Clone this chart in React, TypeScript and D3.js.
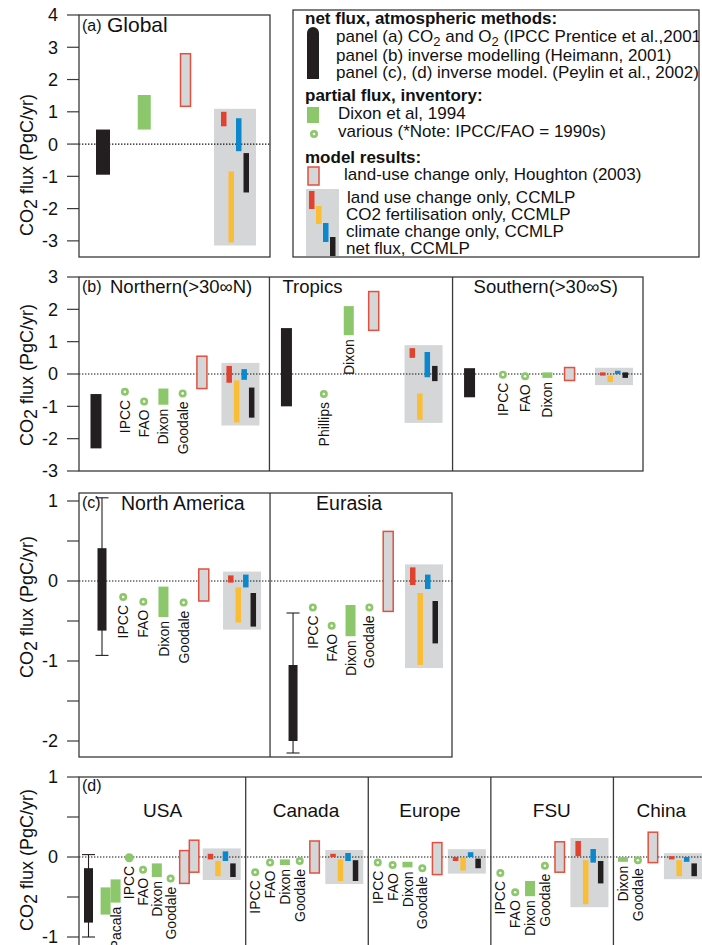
import React from "react";
import * as d3 from "d3";

const width = 702, height = 945;
const FONT = "'Liberation Sans', Arial, Helvetica, sans-serif";
const C = {
  black: "#231f20", green: "#8cc76b", red: "#e2412e", yellow: "#f9be36",
  blue: "#0b87cc", gray: "#d5d6d8", frame: "#3a3a3a", hou: "#e2503e",
};

// regions in each panel
const panelARegions = ["Global"];
const panelBRegions = ["Northern", "Tropics", "Southern"];
const panelCRegions = ["North America", "Eurasia"];
const panelDRegions = ["USA", "Canada", "Europe", "FSU", "China"];

const regionTitles: Record<string, string> = {
  Global: "Global", Northern: "Northern(>30∞N)", Tropics: "Tropics", Southern: "Southern(>30∞S)",
  "North America": "North America", Eurasia: "Eurasia",
  USA: "USA", Canada: "Canada", Europe: "Europe", FSU: "FSU", China: "China",
};

// y axis ticks
const aTicks = [-3, -2, -1, 0, 1, 2, 3, 4];
const bTicks = [-3, -2, -1, 0, 1, 2, 3];
const cTicks = [-2, -1.5, -1, -0.5, 0, 0.5, 1];
const dTicks = [-1, -0.5, 0, 0.5, 1];

// net flux, atmospheric methods  [low, high], optional whiskers
const atmospheric = [
  { region: "Global", range: [-0.95, 0.45] },
  { region: "Northern", range: [-2.3, -0.62] },
  { region: "Tropics", range: [-1.0, 1.42] },
  { region: "Southern", range: [-0.72, 0.18] },
  { region: "North America", range: [-0.62, 0.41], whisker: [-0.93, 1.04] },
  { region: "Eurasia", range: [-2.0, -1.05], whisker: [-2.15, -0.4] },
  { region: "USA", range: [-0.82, -0.14], whisker: [-1.0, 0.03] },
];

// partial flux, inventory (ranges = boxes, value = point)
const inventory: any[] = [
  { region: "Global", source: "Dixon", ranges: [[0.45, 1.52]] },
  { region: "Northern", source: "IPCC", value: -0.55 },
  { region: "Northern", source: "FAO", value: -0.85 },
  { region: "Northern", source: "Dixon", ranges: [[-0.95, -0.45]] },
  { region: "Northern", source: "Goodale", value: -0.6 },
  { region: "Tropics", source: "Phillips", value: -0.62 },
  { region: "Tropics", source: "Dixon", ranges: [[1.2, 2.1]] },
  { region: "Southern", source: "IPCC", value: -0.02 },
  { region: "Southern", source: "FAO", value: -0.07 },
  { region: "Southern", source: "Dixon", ranges: [[-0.12, 0.05]] },
  { region: "North America", source: "IPCC", value: -0.2 },
  { region: "North America", source: "FAO", value: -0.26 },
  { region: "North America", source: "Dixon", ranges: [[-0.45, -0.07]] },
  { region: "North America", source: "Goodale", value: -0.27 },
  { region: "Eurasia", source: "IPCC", value: -0.33 },
  { region: "Eurasia", source: "FAO", value: -0.56 },
  { region: "Eurasia", source: "Dixon", ranges: [[-0.69, -0.3]] },
  { region: "Eurasia", source: "Goodale", value: -0.33 },
  { region: "USA", source: "Pacala", ranges: [[-0.72, -0.38], [-0.57, -0.28]] },
  { region: "USA", source: "IPCC", value: -0.01, solid: true },
  { region: "USA", source: "FAO", value: -0.16 },
  { region: "USA", source: "Dixon", ranges: [[-0.25, -0.08]] },
  { region: "USA", source: "Goodale", value: -0.27 },
  { region: "Canada", source: "IPCC", value: -0.19 },
  { region: "Canada", source: "FAO", value: -0.07 },
  { region: "Canada", source: "Dixon", ranges: [[-0.1, -0.03]] },
  { region: "Canada", source: "Goodale", value: -0.05 },
  { region: "Europe", source: "IPCC", value: -0.07 },
  { region: "Europe", source: "FAO", value: -0.1 },
  { region: "Europe", source: "Dixon", ranges: [[-0.13, -0.06]] },
  { region: "Europe", source: "Goodale", value: -0.14 },
  { region: "FSU", source: "IPCC", value: -0.2 },
  { region: "FSU", source: "FAO", value: -0.44 },
  { region: "FSU", source: "Dixon", ranges: [[-0.49, -0.3]] },
  { region: "FSU", source: "Goodale", value: -0.11 },
  { region: "China", source: "Dixon", ranges: [[-0.06, 0]] },
  { region: "China", source: "Goodale", value: -0.04 },
];

// land-use change only, Houghton (2003)
const houghton = [
  { region: "Global", range: [1.17, 2.8] },
  { region: "Northern", range: [-0.45, 0.55] },
  { region: "Tropics", range: [1.35, 2.55] },
  { region: "Southern", range: [-0.2, 0.2] },
  { region: "North America", range: [-0.25, 0.15] },
  { region: "Eurasia", range: [-0.38, 0.62] },
  { region: "USA", range: [-0.33, 0.08] },
  { region: "USA", range: [-0.19, 0.21] },
  { region: "Canada", range: [-0.2, 0.2] },
  { region: "Europe", range: [-0.22, 0.18] },
  { region: "FSU", range: [-0.19, 0.19] },
  { region: "China", range: [-0.07, 0.31] },
];

// CCMLP model: land use, CO2 fertilisation, climate, net
const ccmlp = [
  { region: "Global", landUse: [0.55, 1.0], co2: [-3.05, -0.85], climate: [-0.22, 0.8], net: [-1.5, -0.28] },
  { region: "Northern", landUse: [-0.27, 0.25], co2: [-1.5, -0.2], climate: [-0.18, 0.15], net: [-1.35, -0.42] },
  { region: "Tropics", landUse: [0.5, 0.8], co2: [-1.42, -0.6], climate: [-0.1, 0.68], net: [-0.22, 0.25] },
  { region: "Southern", landUse: [-0.05, 0.05], co2: [-0.25, -0.05], climate: [0, 0.1], net: [-0.12, 0.05] },
  { region: "North America", landUse: [-0.02, 0.07], co2: [-0.52, -0.08], climate: [-0.08, 0.08], net: [-0.57, -0.15] },
  { region: "Eurasia", landUse: [-0.05, 0.17], co2: [-1.05, -0.15], climate: [-0.1, 0.08], net: [-0.78, -0.25] },
  { region: "USA", landUse: [-0.03, 0.04], co2: [-0.24, -0.05], climate: [-0.05, 0.07], net: [-0.25, -0.08] },
  { region: "Canada", landUse: [0, 0.04], co2: [-0.3, -0.03], climate: [-0.05, 0.05], net: [-0.3, -0.04] },
  { region: "Europe", landUse: [-0.05, 0], co2: [-0.17, -0.01], climate: [0, 0.06], net: [-0.14, -0.02] },
  { region: "FSU", landUse: [0.01, 0.2], co2: [-0.59, -0.04], climate: [-0.07, 0.1], net: [-0.33, -0.05] },
  { region: "China", landUse: [-0.03, 0.01], co2: [-0.24, -0.04], climate: [-0.06, 0], net: [-0.24, -0.08] },
];
const ccmlpKeys = ["landUse", "co2", "climate", "net"];
const ccmlpColors = [C.red, C.yellow, C.blue, C.black];

// layout for each panel
const panels = [
  {
    id: "(a)", regions: panelARegions, domain: [-3.5, 4], ticks: aTicks, tickLabels: aTicks,
    top: 15, bottom: 257, left: 79, right: 270, weights: [1],
    padL: 24, padR: 35, atmGap: 1, ccGap: 1.2, maxUnit: 100,
    atmW: 14, rectW: 13, houW: 10, ccW: 42, ccStep: 7.5, labels: false,
    letterY: 31, titleY: 32, titleSize: 21, titleDx: [28], axisLabelY: 165,
  },
  {
    id: "(b)", regions: panelBRegions, domain: [-3, 3], ticks: bTicks, tickLabels: bTicks,
    top: 277, bottom: 471, left: 79, right: 643, weights: [1.04, 1, 1.04],
    padL: 17, padR: 29, atmGap: 1.5, ccGap: 2, maxUnit: 100,
    atmW: 11, rectW: 10, houW: 10, ccW: 38, ccStep: 7.5, labels: true,
    letterY: 292, titleY: 293, titleSize: 18.5, titleDx: [31, 13, 21], axisLabelY: 375,
  },
  {
    id: "(c)", regions: panelCRegions, domain: [-2.2, 1.1], ticks: cTicks, tickLabels: [-2, -1, 0, 1],
    top: 493, bottom: 757, left: 79, right: 452, weights: [1.05, 1],
    padL: 23, padR: 28, atmGap: 1.05, ccGap: 1.9, maxUnit: 100,
    atmW: 9, rectW: 10, houW: 10, ccW: 38, ccStep: 7.5, labels: true,
    letterY: 508, titleY: 510, titleSize: 19.5, titleDx: [42, 46], axisLabelY: 607,
  },
  {
    id: "(d)", regions: panelDRegions, domain: [-1.25, 1], ticks: dTicks, tickLabels: [-1, 0, 1],
    top: 777, bottom: 957, left: 79, right: 736, weights: [1.36, 1, 1, 1, 1],
    padL: 9.5, padR: 24, atmGap: 1.6, ccGap: 2, maxUnit: 15,
    atmW: 9, rectW: 10, houW: 9.5, ccW: 38, ccStep: 7.5, labels: true,
    letterY: 791, titleY: 817, titleSize: 19, titleDx: [64, 27, 31, 42, 23], axisLabelY: 860,
  },
];

function Region({ p, r, x0, x1, y }: any) {
  const items: any[] = [];
  atmospheric.filter(d => d.region === r).forEach(d => items.push({ kind: "atm", d }));
  inventory.filter(d => d.region === r).forEach(d => items.push({ kind: "inv", d }));
  houghton.filter(d => d.region === r).forEach(d => items.push({ kind: "hou", d }));
  ccmlp.filter(d => d.region === r).forEach(d => items.push({ kind: "cc", d }));

  // slot positions along the region
  let pos = 0;
  const slots = items.map((it, i) => {
    if (i > 0) {
      const prev = items[i - 1];
      let g = 1;
      if (prev.kind === "atm") g = p.atmGap;
      else if (it.kind === "cc") g = p.ccGap;
      else if (prev.kind === "hou" && it.kind === "hou") g = 0.7;
      else if (prev.kind === "inv" && prev.d.ranges && prev.d.ranges.length > 1) g = 1.35;
      pos += g;
    }
    return pos;
  });
  const innerL = x0 + p.padL, innerR = x1 - p.padR;
  const unit = Math.min((innerR - innerL) / (pos || 1), p.maxUnit);
  const xs = d3.scaleLinear().domain([0, pos || 1]).range([innerL, innerL + unit * (pos || 1)]);

  const bgs: any[] = [], marks: any[] = [];
  items.forEach((it, i) => {
    const cx = xs(slots[i]);
    const d = it.d;
    const key = r + i;
    if (it.kind === "atm") {
      if (d.whisker) {
        marks.push(
          <g key={key + "w"} stroke={C.black} strokeWidth={1.1}>
            <line x1={cx} x2={cx} y1={y(d.whisker[1])} y2={y(d.whisker[0])} />
            <line x1={cx - 6.5} x2={cx + 6.5} y1={y(d.whisker[1])} y2={y(d.whisker[1])} />
            <line x1={cx - 6.5} x2={cx + 6.5} y1={y(d.whisker[0])} y2={y(d.whisker[0])} />
          </g>
        );
      }
      marks.push(<rect key={key} x={cx - p.atmW / 2} width={p.atmW} y={y(d.range[1])}
        height={y(d.range[0]) - y(d.range[1])} fill={C.black} />);
    } else if (it.kind === "inv") {
      let labelX = cx, labelY = 0;
      if (d.ranges) {
        const n = d.ranges.length;
        d.ranges.forEach((rg: number[], j: number) => {
          const rx = cx + (j - (n - 1) / 2) * p.rectW;
          marks.push(<rect key={key + "r" + j} x={rx - p.rectW / 2} width={p.rectW}
            y={y(rg[1])} height={y(rg[0]) - y(rg[1])} fill={C.green} />);
          if (j === n - 1) { labelX = rx; labelY = y(rg[0]) + 4; }
        });
      } else {
        const cy = y(d.value);
        marks.push(
          <g key={key + "c"}>
            <circle cx={cx} cy={cy} r={d.solid ? 4.5 : 4} fill={C.green} />
            {!d.solid && <circle cx={cx} cy={cy} r={1.3} fill="#fff" />}
          </g>
        );
        labelY = cy + 8;
      }
      if (p.labels) {
        marks.push(
          <text key={key + "t"} transform={`translate(${labelX},${labelY}) rotate(-90)`}
            textAnchor="end" dy="0.36em" fontSize={14} fill="#111">{d.source}</text>
        );
      }
    } else if (it.kind === "hou") {
      marks.push(<rect key={key} x={cx - p.houW / 2} width={p.houW} y={y(d.range[1])}
        height={y(d.range[0]) - y(d.range[1])} fill={C.gray} stroke={C.hou} strokeWidth={1.5} />);
    } else {
      const vals = ccmlpKeys.flatMap(k => d[k]);
      const top = y(d3.max(vals)!) - 3, bot = y(d3.min(vals)!) + 3;
      bgs.push(<rect key={key + "bg"} x={cx - p.ccW / 2} width={p.ccW} y={top} height={bot - top} fill={C.gray} />);
      ccmlpKeys.forEach((k, j) => {
        const bx = cx + (j - 1.5) * p.ccStep;
        const rg = d[k];
        marks.push(<rect key={key + k} x={bx - 2.75} width={5.5} y={y(rg[1])}
          height={Math.max(1, y(rg[0]) - y(rg[1]))} fill={ccmlpColors[j]} />);
      });
    }
  });
  return { bgs, marks };
}

function Panel({ p }: any) {
  const y = d3.scaleLinear().domain(p.domain).range([p.bottom, p.top]);
  const wsum = d3.sum(p.weights as number[]);
  const rs = d3.scaleLinear().domain([0, wsum]).range([p.left, p.right]);
  const cum = Array.from(d3.cumsum(p.weights as number[]));
  const edges = [p.left, ...cum.map(v => rs(v))];
  const parts = p.regions.map((r: string, i: number) => Region({ p, r, x0: edges[i], x1: edges[i + 1], y }));
  const frame = C.frame;
  return (
    <g fontFamily={FONT}>
      {parts.map((pt: any) => pt.bgs)}
      <line x1={p.left} x2={p.right} y1={y(0)} y2={y(0)} stroke="#111" strokeWidth={1.2} strokeDasharray="1.4 1.6" />
      {parts.map((pt: any) => pt.marks)}
      <rect x={p.left} y={p.top} width={p.right - p.left} height={p.bottom - p.top} fill="none" stroke={frame} strokeWidth={1.3} />
      {edges.slice(1, -1).map((e: number, i: number) => (
        <line key={i} x1={e} x2={e} y1={p.top} y2={p.bottom} stroke={frame} strokeWidth={1.3} />
      ))}
      {p.ticks.map((t: number) => (
        <line key={t} x1={p.left - 12} x2={p.left} y1={y(t)} y2={y(t)} stroke={frame} strokeWidth={1.2} />
      ))}
      {p.tickLabels.map((t: number) => (
        <text key={"l" + t} x={p.left - 21} y={y(t)} dy="0.36em" textAnchor="end" fontSize={18} fill="#111">{t}</text>
      ))}
      <text x={p.left + 3} y={p.letterY} fontSize={16} fill="#111">{p.id}</text>
      {p.regions.map((r: string, i: number) => (
        <text key={r} x={edges[i] + p.titleDx[i]} y={p.titleY} fontSize={p.titleSize} fill="#111">{regionTitles[r]}</text>
      ))}
      <text transform={`translate(33,${p.axisLabelY}) rotate(-90)`} textAnchor="middle" fontSize={18} fill="#111">
        CO<tspan dy="4">2</tspan><tspan dy="-4"> flux (PgC/yr)</tspan>
      </text>
    </g>
  );
}

function Legend() {
  const t = { fontSize: 17, fill: "#111" };
  return (
    <g fontFamily={FONT}>
      <defs>
        <clipPath id="legclip"><rect x={293} y={10} width={406} height={247} /></clipPath>
      </defs>
      <rect x={293} y={10} width={406} height={247} fill="#fff" stroke={C.frame} strokeWidth={1.3} />
      <g clipPath="url(#legclip)">
        <text x={305} y={24} {...t} fontWeight="bold">net flux, atmospheric methods:</text>
        <path d="M307,79 L307,33 A6,6 0 0 1 319,33 L319,79 Z" fill={C.black} />
        <text x={336} y={42} {...t}>panel (a) CO<tspan dy="4" fontSize={13}>2</tspan><tspan dy="-4"> and O</tspan><tspan dy="4" fontSize={13}>2</tspan><tspan dy="-4"> (IPCC Prentice et al.,2001</tspan></text>
        <text x={336} y={61} {...t}>panel (b) inverse modelling (Heimann, 2001)</text>
        <text x={336} y={78} {...t}>panel (c), (d) inverse model. (Peylin et al., 2002)</text>
        <text x={305} y={101} {...t} fontWeight="bold">partial flux, inventory:</text>
        <rect x={307} y={107} width={12} height={16} fill={C.green} />
        <text x={338} y={119} {...t}>Dixon et al, 1994</text>
        <circle cx={314} cy={134} r={4} fill={C.green} />
        <circle cx={314} cy={134} r={1.3} fill="#fff" />
        <text x={338} y={137} {...t}>various (*Note: IPCC/FAO = 1990s)</text>
        <text x={305} y={163} {...t} fontWeight="bold">model results:</text>
        <rect x={308} y={167} width={11} height={18} fill={C.gray} stroke={C.hou} strokeWidth={1.5} />
        <text x={344} y={180} {...t}>land-use change only, Houghton (2003)</text>
        <rect x={306} y={189} width={33} height={67} fill={C.gray} />
        <rect x={309} y={191} width={5.5} height={18} fill={C.red} />
        <rect x={316} y={206} width={5.5} height={18} fill={C.yellow} />
        <rect x={323} y={223} width={5.5} height={19} fill={C.blue} />
        <rect x={330} y={237} width={5.5} height={19} fill={C.black} />
        <text x={347} y={203} {...t}>land use change only, CCMLP</text>
        <text x={346} y={220} {...t}>CO2 fertilisation only, CCMLP</text>
        <text x={346} y={237} {...t}>climate change only, CCMLP</text>
        <text x={346} y={254} {...t}>net flux, CCMLP</text>
      </g>
    </g>
  );
}

export default function App() {
  return (
    <svg width={width} height={height} viewBox={`0 0 ${width} ${height}`}
      style={{ position: "absolute", left: 0, top: 0, display: "block", background: "#fff" }}>
      {panels.map(p => <Panel key={p.id} p={p} />)}
      <Legend />
    </svg>
  );
}
